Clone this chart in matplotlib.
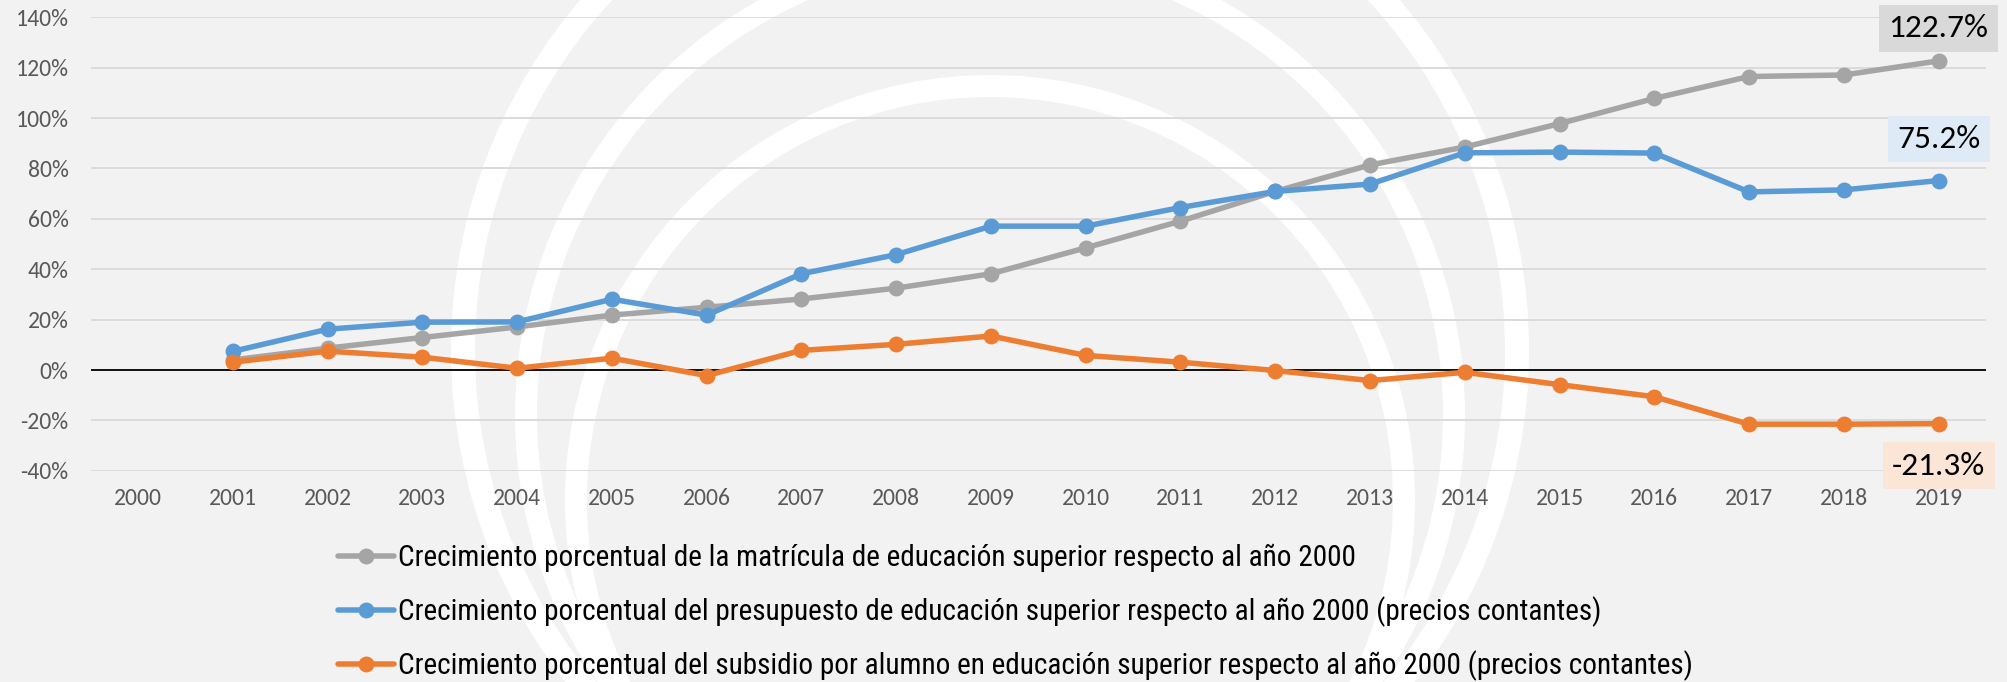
import numpy as np
import matplotlib
matplotlib.use('Agg')
import matplotlib.pyplot as plt
from matplotlib import font_manager
from matplotlib.patches import Circle
from matplotlib.transforms import IdentityTransform

# ---------------- data ----------------
years = [str(y) for y in range(2000, 2020)]
matricula = [np.nan, 4.0, 8.7, 12.9, 17.1, 21.8, 24.9, 28.2, 32.5, 38.2, 48.5,
             59.1, 70.9, 81.4, 88.5, 97.8, 107.8, 116.5, 117.1, 122.7]
presupuesto = [np.nan, 7.4, 16.2, 19.0, 19.1, 28.1, 21.8, 38.2, 45.8, 57.1, 57.1,
               64.5, 70.9, 73.8, 86.2, 86.5, 86.1, 70.7, 71.5, 75.2]
subsidio = [np.nan, 3.1, 7.5, 5.1, 0.7, 4.7, -2.2, 7.8, 10.2, 13.5, 5.8,
            3.1, -0.2, -4.2, -0.9, -5.8, -10.6, -21.5, -21.5, -21.3]
labels = [
    "Crecimiento porcentual de la matrícula de educación superior respecto al año 2000",
    "Crecimiento porcentual del presupuesto de educación superior respecto al año 2000 (precios contantes)",
    "Crecimiento porcentual del subsidio por alumno en educación superior respecto al año 2000 (precios contantes)",
]
end_labels = ["122.7%", "75.2%", "-21.3%"]
yticks = list(range(-40, 141, 20))

colors = ["#a5a5a5", "#5b9bd5", "#ed7d31"]
box_colors = ["#d9d9d9", "#deebf7", "#fbe5d6"]
BG = "#f2f2f2"

avail = {f.name for f in font_manager.fontManager.ttflist}
def pick(*names):
    for n in names:
        if n in avail:
            return n
    return "DejaVu Sans"
tick_font = pick("Carlito", "Lato", "Open Sans")
leg_font = pick("Liberation Sans Narrow", "Arial Narrow", "Roboto Condensed", "Liberation Sans")

W, H, DPI = 2008, 682, 100
fig = plt.figure(figsize=(W / DPI, H / DPI), dpi=DPI, facecolor=BG)

# watermark rings (pixel coordinates)
for cx, cy, r, lw in [(990, 350, 527, 24), (990, 415, 464, 22), (990, 500, 414, 22)]:
    c = Circle((cx, H - cy), r, transform=IdentityTransform(), fill=False,
               ec="white", lw=lw * 0.72, zorder=-5)
    fig.add_artist(c)

left, right = 90.7 / W, 1986 / W
top_px, bot_px = 17.3, 470.8
ax = fig.add_axes([left, 1 - bot_px / H, right - left, (bot_px - top_px) / H])
ax.set_facecolor("none")

x = np.arange(len(years))
series = [matricula, presupuesto, subsidio]
for vals, col, lab in zip(series, colors, labels):
    ax.plot(x, vals, color=col, lw=5.5 * 0.72, marker="o", ms=14.5 * 0.72,
            solid_capstyle="round", label=lab, zorder=3)

ax.set_xlim(-0.5, len(years) - 0.5)
ax.set_ylim(-40, 140)
ax.set_yticks(yticks)
ax.set_yticklabels([f"{v}%" for v in yticks])
ax.set_xticks(x)
ax.set_xticklabels(years)
ax.grid(axis="y", color="#d9d9d9", lw=1.3, zorder=0)
ax.set_axisbelow(True)
ax.axhline(0, color="black", lw=1.3, zorder=2)
for s in ax.spines.values():
    s.set_visible(False)
ax.tick_params(length=0, labelsize=17, labelcolor="#595959")
ax.tick_params(axis="y", pad=16)
ax.tick_params(axis="x", pad=12.5)
for t in ax.get_xticklabels() + ax.get_yticklabels():
    t.set_fontfamily(tick_font)

# end-of-series labels
offsets = [32.7, 41.5, -42]
for vals, lab, bc, dy in zip(series, end_labels, box_colors, offsets):
    ax.annotate(lab, xy=(x[-1], vals[-1]), xytext=(0, dy), textcoords="offset pixels",
                ha="center", va="center", fontsize=24, family=tick_font, color="black",
                bbox=dict(boxstyle="square,pad=0.28", fc=bc, ec="none"),
                annotation_clip=False, zorder=5)

# legend font size scaled to reference width of the longest entry
renderer = fig.canvas.get_renderer()
tmp = fig.text(0, 0, labels[2], fontsize=20, family=leg_font)
wpx = tmp.get_window_extent(renderer).width
tmp.remove()
leg_fs = 20 * 1295.0 / wpx
fs_px = leg_fs * DPI / 72.0

def make_legend(anchor_y, spacing):
    return ax.legend(loc="upper left", bbox_to_anchor=(338 / W, anchor_y),
                     bbox_transform=fig.transFigure, frameon=False,
                     prop={"family": leg_font, "size": leg_fs},
                     handlelength=56 / fs_px, handletextpad=4 / fs_px,
                     borderpad=0, borderaxespad=0, labelspacing=spacing,
                     numpoints=1)

leg = make_legend(1 - 540 / H, 0.5)
fig.canvas.draw()
cys = [H - t.get_window_extent(renderer).y0 - t.get_window_extent(renderer).height / 2
       for t in leg.get_texts()]
gap = (cys[2] - cys[0]) / 2
spacing = 0.5 + (54 - gap) / fs_px
leg.remove()
leg = make_legend(1 - 540 / H, spacing)
fig.canvas.draw()
cy0 = H - (leg.get_texts()[0].get_window_extent(renderer).y0 +
           leg.get_texts()[0].get_window_extent(renderer).height / 2)
shift = 558 - cy0
leg.remove()
leg = make_legend(1 - (540 + shift) / H, spacing)
for t in leg.get_texts():
    t.set_color("black")

fig.savefig("out.png", dpi=DPI, facecolor=BG)
